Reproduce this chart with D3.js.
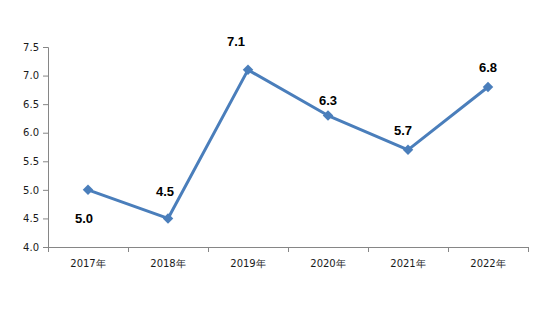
<!DOCTYPE html>
<html><head><meta charset="utf-8">
<script src="https://cdn.jsdelivr.net/npm/d3@7/dist/d3.min.js"></script>
<style>body{margin:0;background:#fff}svg{display:block}</style>
</head><body>
<svg id="c" width="558" height="326"></svg>
<script>
const categories = ["2017年","2018年","2019年","2020年","2021年","2022年"];
const values = [5.0, 4.5, 7.1, 6.3, 5.7, 6.8];
const yTicks = [4.0, 4.5, 5.0, 5.5, 6.0, 6.5, 7.0, 7.5];

// layout for data labels (dx, dy from point)
const labelOffsets = [[-4, 29], [-3, -27], [-12, -28], [0, -15], [-5, -19], [0, -20]];

const svg = d3.select("#c");
const m = {left: 48, right: 30, top: 47, bottom: 79};
const W = 558, H = 326;
const x = d3.scaleBand().domain(categories).range([m.left, W - m.right]);
const y = d3.scaleLinear().domain([4.0, 7.5]).range([H - m.bottom, m.top]);
const axisColor = "#868686";

const yAxis = svg.append("g").attr("transform", `translate(${m.left},0)`)
  .call(d3.axisLeft(y).tickValues(yTicks).tickFormat(d3.format(".1f")).tickSize(5).tickPadding(4));
const xAxis = svg.append("g").attr("transform", `translate(0,${H - m.bottom})`)
  .call(d3.axisBottom(x).tickSize(0).tickPadding(13));
// x tick marks at band boundaries
const bounds = categories.map(c => x(c)).concat([x(categories[categories.length-1]) + x.bandwidth()]);
svg.append("g").selectAll("line").data(bounds).join("line")
  .attr("x1", d => Math.round(d) + 0.5).attr("x2", d => Math.round(d) + 0.5)
  .attr("y1", H - m.bottom).attr("y2", H - m.bottom + 5)
  .attr("stroke", axisColor);

[yAxis, xAxis].forEach(g => {
  g.selectAll("path.domain").attr("stroke", axisColor).attr("stroke-width", 1);
  g.selectAll(".tick line").attr("stroke", axisColor);
  g.selectAll("text").attr("fill", "#1a1a1a").style("font-family", "'DejaVu Sans', Verdana, sans-serif").style("font-size", "10px");
});
xAxis.selectAll("path.domain").attr("d", `M${m.left},0.5H${W - m.right}`);

const cx = (d, i) => x(categories[i]) + x.bandwidth() / 2;
const line = d3.line().x((d, i) => cx(d, i)).y(d => y(d));
svg.append("path").datum(values).attr("d", line)
  .attr("fill", "none").attr("stroke", "#4a7ebb").attr("stroke-width", 3).attr("stroke-linejoin", "round");

svg.append("g").selectAll("path").data(values).join("path")
  .attr("d", d3.symbol(d3.symbolDiamond2, 70)())
  .attr("transform", (d, i) => `translate(${cx(d, i)},${y(d)})`)
  .attr("fill", "#4a7ebb");

svg.append("g").selectAll("text").data(values).join("text")
  .attr("x", (d, i) => cx(d, i) + labelOffsets[i][0])
  .attr("y", (d, i) => y(d) + labelOffsets[i][1])
  .attr("text-anchor", "middle").attr("dominant-baseline", "central")
  .style("font-family", "'Liberation Sans', Arial, sans-serif").style("font-size", "13px").style("font-weight", "bold")
  .attr("fill", "#000")
  .text(d => d.toFixed(1));
</script>
</body></html>
